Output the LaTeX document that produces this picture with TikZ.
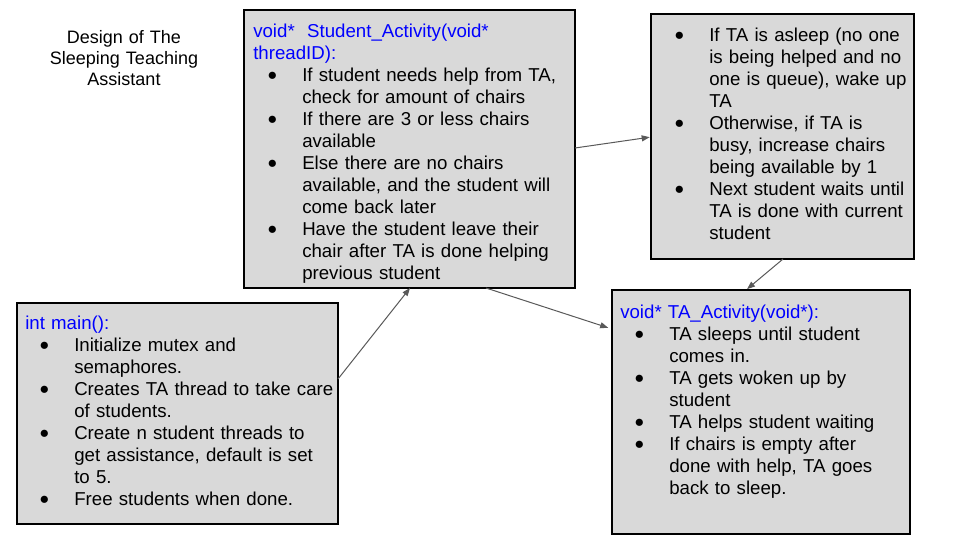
\documentclass[tikz,border=0pt]{standalone}
\usepackage{fontspec}
\setmainfont{Liberation Sans}
\usetikzlibrary{arrows.meta}
\definecolor{boxfill}{HTML}{D9D9D9}
\definecolor{hdr}{HTML}{0000FF}
\definecolor{arr}{HTML}{595959}
\newcommand\bmark{\noindent\llap{\makebox[36.75pt][l]{\hspace{10.5pt}\raisebox{0.2pt}{\fontsize{12.5}{12.5}\selectfont ●}}}}
\newcommand\bpt{\par\bmark}
\newcommand\bstart{\par\leftskip=36.75pt\relax}
\begin{document}
\begin{tikzpicture}[x=0.75pt,y=-0.75pt,
  box/.style={draw=black, line width=0.9pt, fill=boxfill, anchor=north west, inner sep=0pt, outer sep=0pt},
  txt/.style={anchor=base west, inner sep=0pt, text width=330pt, align=left, font=\fontsize{14}{16.5}\selectfont},
  conn/.style={draw=arr, line width=0.75pt, -{Triangle[length=6pt,width=4.5pt]}}]
\useasboundingbox[fill=white] (0,0) rectangle (960,540);

% boxes
\node[box, minimum width=331*0.75pt, minimum height=278*0.75pt] (stud) at (244,10) {};
\node[box, minimum width=263*0.75pt, minimum height=245*0.75pt] (sleep) at (651,14) {};
\node[box, minimum width=321*0.75pt, minimum height=221*0.75pt] (main) at (17,303) {};
\node[box, minimum width=298*0.75pt, minimum height=244*0.75pt] (ta) at (612,290) {};

% title
\node[anchor=base, inner sep=0pt, text width=200pt, align=center, font=\fontsize{13.5}{16.1}\selectfont] (title) at (124,43) {Design of The\\Sleeping Teaching\\Assistant};

% student activity text
\node[txt] (studtxt) at (253,37) {{\color{hdr}void*\ \ Student\_Activity(void*\\threadID):}\bstart
\bpt If student needs help from TA,\\check for amount of chairs
\bpt If there are 3 or less chairs\\available
\bpt Else there are no chairs\\available, and the student will\\come back later
\bpt Have the student leave their\\chair after TA is done helping\\previous student\par};

% sleep text
\node[txt] (sleeptxt) at (660,41) {\leftskip=36.75pt\relax\bmark If TA is asleep (no one\\is being helped and no\\one is queue), wake up\\TA
\bpt Otherwise, if TA is\\busy, increase chairs\\being available by 1
\bpt Next student waits until\\TA is done with current\\student\par};

% main text
\node[txt] (maintxt) at (25,329) {{\color{hdr}int main():}\bstart
\bpt Initialize mutex and\\semaphores.
\bpt Creates TA thread to take care\\of students.
\bpt Create n student threads to\\get assistance, default is set\\to 5.
\bpt Free students when done.\par};

% TA activity text
\node[txt] (tatxt) at (620,318) {{\color{hdr}void* TA\_Activity(void*):}\bstart
\bpt TA sleeps until student\\comes in.
\bpt TA gets woken up by\\student
\bpt TA helps student waiting
\bpt If chairs is empty after\\done with help, TA goes\\back to sleep.\par};

% connectors
\draw[conn] (main.east |- 0,379) -- (stud.south -| 410,0);
\draw[conn, shorten >=3pt] (stud.south -| 486,0) -- (ta.west |- 0,329);
\draw[conn, shorten >=1pt] (stud.east |- 0,148) -- (sleep.west |- 0,137);
\draw[conn, shorten >=1pt] (sleep.south -| 783,0) -- (ta.north -| 746,0);
\end{tikzpicture}
\end{document}
